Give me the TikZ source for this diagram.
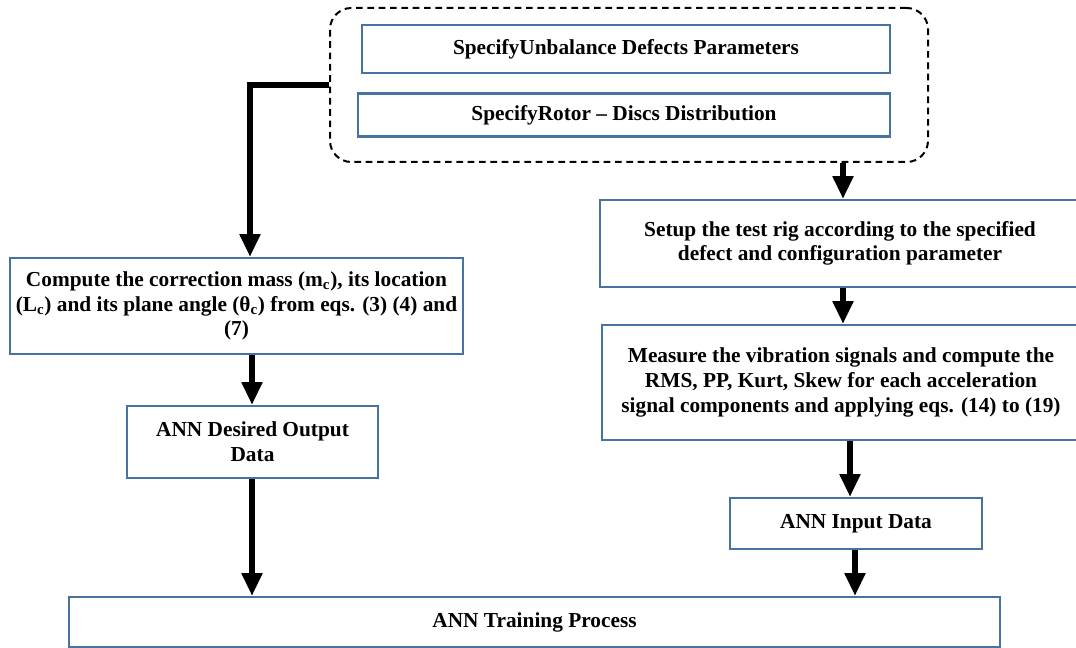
\documentclass[tikz,border=0pt]{standalone}
\usepackage{fontspec}
\setmainfont{Liberation Serif}
\usetikzlibrary{arrows.meta}
\definecolor{boxblue}{RGB}{72,114,160}
\begin{document}
\begin{tikzpicture}[x=0.75pt,y=-0.75pt,
  box/.style={draw=boxblue, line width=1.8pt, rectangle, align=center, inner sep=0pt,
    font=\fontsize{16}{18.5}\selectfont\bfseries},
  arr/.style={line width=3.8pt, line join=miter, -{Triangle[length=17pt,width=15pt]}},
  dashbox/.style={draw=black, line width=1.5pt, dash pattern=on 5pt off 3.5pt, rounded corners=16pt, rectangle, inner sep=0pt}
]
\useasboundingbox (0,0) rectangle (1076,648);

\node[dashbox, minimum width=598*0.75pt, minimum height=154*0.75pt] (dash) at (629,85) {};
\node[box, minimum width=528*0.75pt, minimum height=48*0.75pt] (spec1) at (626,49) {SpecifyUnbalance Defects Parameters};
\node[box, minimum width=532*0.75pt, minimum height=43*0.75pt] (spec2) at (624,115) {SpecifyRotor -- Discs Distribution};

\node[box, minimum width=453*0.75pt, minimum height=96*0.75pt] (compute) at (236.5,306)
  {Compute the correction mass (m\textsubscript{c}), its location\\
   (L\textsubscript{c}) and its plane angle (θ\textsubscript{c}) from eqs. (3) (4) and\\ (7)};
\node[box, minimum width=251*0.75pt, minimum height=72*0.75pt] (desired) at (252.5,442)
  {ANN Desired Output\\ Data};

\node[box, minimum width=480*0.75pt, minimum height=87*0.75pt] (setup) at (840,243.5)
  {Setup the test rig according to the specified\\ defect and configuration parameter};
\node[box, minimum width=478*0.75pt, minimum height=115*0.75pt] (measure) at (841,382.5)
  {Measure the vibration signals and compute the\\
   RMS, PP, Kurt, Skew for each acceleration\\
   signal components and applying eqs. (14) to (19)};
\node[box, minimum width=252*0.75pt, minimum height=51*0.75pt] (input) at (856,523.5)
  {ANN Input Data};

\node[box, minimum width=931*0.75pt, minimum height=50*0.75pt] (train) at (534.5,622)
  {ANN Training Process};

\coordinate (xl) at (250,0);
\coordinate (xc) at (252,0);
\coordinate (xr1) at (843,0);
\coordinate (xr2) at (850,0);
\coordinate (xr3) at (855,0);

\draw[arr] (dash.west) -| (xl |- compute.north);
\draw[arr] (compute.south -| xc) -- (desired.north -| xc);
\draw[arr] (desired.south -| xc) -- (train.north -| xc);
\draw[arr] (dash.south -| xr1) -- (setup.north -| xr1);
\draw[arr] (setup.south -| xr1) -- (measure.north -| xr1);
\draw[arr] (measure.south -| xr2) -- (input.north -| xr2);
\draw[arr] (input.south -| xr3) -- (train.north -| xr3);
\end{tikzpicture}
\end{document}
